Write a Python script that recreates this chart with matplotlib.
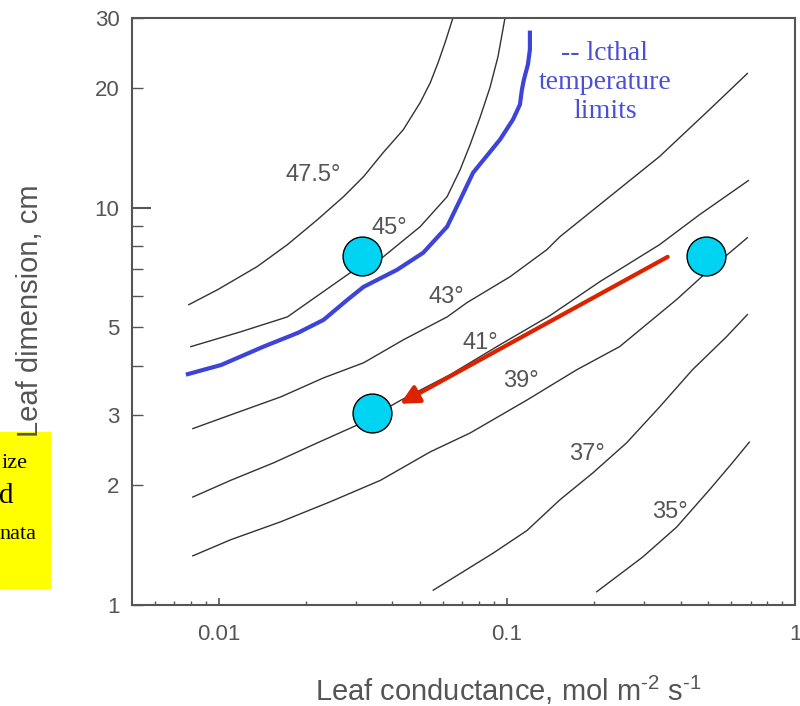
import matplotlib
matplotlib.use("Agg")
import matplotlib.pyplot as plt
from matplotlib.patches import Rectangle

# leaf conductance (mol m-2 s-1) vs leaf dimension (cm) for each isotherm
g_475 = [0.00787, 0.00992, 0.0136, 0.0173, 0.0220, 0.0271, 0.0318, 0.0372, 0.0437, 0.0500, 0.0542, 0.0577, 0.0610, 0.0649]
d_475 = [5.70, 6.22, 7.11, 8.07, 9.33, 10.66, 11.97, 13.76, 15.72, 18.39, 20.64, 23.19, 26.04, 30.0]
g_45 = [0.0080, 0.0119, 0.0173, 0.0286, 0.0372, 0.0500, 0.0620, 0.0688, 0.0745, 0.0806, 0.0873, 0.0931, 0.0984]
d_45 = [4.47, 4.87, 5.31, 6.86, 7.52, 8.96, 10.66, 12.47, 14.41, 16.85, 20.06, 24.01, 30.0]
g_43 = [0.00813, 0.0110, 0.0164, 0.0231, 0.0318, 0.0437, 0.0620, 0.0727, 0.1024, 0.1375, 0.1526, 0.2272, 0.3383, 0.5041, 0.6823]
d_43 = [2.78, 3.01, 3.34, 3.73, 4.07, 4.65, 5.31, 5.77, 6.70, 7.84, 8.45, 10.66, 13.45, 17.65, 21.76]
g_41 = [0.00813, 0.0110, 0.0155, 0.0220, 0.0303, 0.0426, 0.0635, 0.0946, 0.1409, 0.2098, 0.3383, 0.4655, 0.6879]
d_41 = [1.87, 2.06, 2.28, 2.56, 2.84, 3.27, 3.80, 4.52, 5.35, 6.51, 8.07, 9.60, 11.70]
g_39 = [0.00813, 0.0110, 0.0164, 0.0244, 0.0364, 0.0542, 0.0745, 0.1173, 0.1747, 0.2460, 0.3875, 0.5041, 0.6823]
d_39 = [1.33, 1.46, 1.62, 1.82, 2.06, 2.43, 2.71, 3.28, 3.91, 4.47, 5.87, 6.98, 8.40]
g_37 = [0.0555, 0.0688, 0.0894, 0.1173, 0.1526, 0.1985, 0.2601, 0.3383, 0.4402, 0.5770, 0.6823]
d_37 = [1.09, 1.20, 1.35, 1.54, 1.84, 2.15, 2.56, 3.15, 3.91, 4.73, 5.38]
g_35 = [0.2048, 0.2955, 0.3875, 0.5041, 0.6053, 0.6932]
d_35 = [1.08, 1.32, 1.57, 1.95, 2.28, 2.57]

# lethal temperature limit (blue)
g_leth = [0.00769, 0.0102, 0.0143, 0.0188, 0.0231, 0.0280, 0.0318, 0.0416, 0.0512, 0.0620,
          0.0688, 0.0763, 0.0946, 0.1049, 0.1109, 0.1127, 0.1145, 0.1182, 0.1201, 0.1201]
d_leth = [3.80, 4.02, 4.47, 4.84, 5.22, 5.87, 6.32, 6.98, 7.70, 8.96,
          10.47, 12.25, 14.84, 16.66, 18.17, 19.83, 21.01, 22.93, 25.0, 27.9]

# isotherm labels
temp_labels = ["47.5°", "45°", "43°", "41°", "39°", "37°", "35°"]
label_g = [0.0212, 0.0391, 0.0615, 0.0806, 0.1118, 0.1892, 0.3664]
label_d = [12.11, 8.90, 5.97, 4.57, 3.67, 2.40, 1.71]

# leaves (cyan dots) and the red arrow
leaf_g = [0.0313, 0.0341, 0.492]
leaf_d = [7.57, 3.04, 7.57]
arrow_from = (0.361, 7.52)
arrow_to = (0.0426, 3.21)

grey = "#555555"
plt.rcParams["font.family"] = ["Liberation Sans", "DejaVu Sans"]
plt.rcParams["mathtext.fontset"] = "custom"
plt.rcParams["mathtext.rm"] = "Liberation Sans"

fig = plt.figure(figsize=(8.0, 7.06), dpi=100)
ax = fig.add_axes([0.165, 0.143, 0.829, 0.8314])

curves = [(g_475, d_475), (g_45, d_45), (g_43, d_43), (g_41, d_41),
          (g_39, d_39), (g_37, d_37), (g_35, d_35)]
for g, d in curves:
    ax.plot(g, d, color="#333333", lw=1.0)

ax.plot(g_leth, d_leth, color="#3d44d8", lw=3.0, solid_capstyle="butt")

for t, x, y in zip(temp_labels, label_g, label_d):
    ax.text(x, y, t, fontsize=17, color=grey, ha="center", va="center")

ax.annotate("", xy=arrow_to, xytext=arrow_from,
            arrowprops=dict(arrowstyle="-|>", color="#dd2200", lw=3.0,
                            mutation_scale=28, shrinkA=0, shrinkB=0))

ax.plot(leaf_g, leaf_d, "o", ms=28, mfc="#00d4f2", mec="black", mew=1.0, zorder=5)

ax.text(0.713, 0.89, "-- lcthal\ntemperature\nlimits", transform=ax.transAxes,
        family=["Liberation Serif", "DejaVu Serif"], fontsize=20, color="#4a4fd6",
        ha="center", va="center", linespacing=1.2)

ax.set_xscale("log")
ax.set_yscale("log")
ax.set_xlim(0.005, 1.0)
ax.set_ylim(1, 30)

ax.set_xticks([0.01, 0.1, 1], labels=["0.01", "0.1", "1"])
ax.set_xticks([0.006, 0.007, 0.008, 0.009, 0.02, 0.03, 0.04, 0.05, 0.06, 0.07, 0.08, 0.09,
               0.2, 0.3, 0.4, 0.5, 0.6, 0.7, 0.8, 0.9], minor=True)
ax.set_yticks([10], labels=["10"])
ax.set_yticks([1, 2, 3, 4, 5, 6, 7, 8, 9, 20, 30],
              labels=["1", "2", "3", "", "5", "", "", "", "", "20", "30"], minor=True)

ax.tick_params(axis="x", which="both", direction="in", colors=grey, labelsize=16, pad=14)
ax.tick_params(axis="x", which="major", length=5, width=1.2)
ax.tick_params(axis="x", which="minor", length=3, width=1.0)
ax.tick_params(axis="y", which="both", direction="in", colors=grey, labelsize=16, pad=9)
ax.tick_params(axis="y", which="major", length=14, width=1.5)
ax.tick_params(axis="y", which="minor", length=8, width=1.0)
for s in ax.spines.values():
    s.set_color(grey)
    s.set_linewidth(1.5)

fig.text(30 / 800, 1 - 311 / 706, "Leaf dimension, cm", rotation=90, fontsize=21,
         color=grey, ha="center", va="center")
fig.text(508 / 800, 1 - 690 / 706, "Leaf conductance, mol m$^{\u20102}$ s$^{\u20101}$",
         fontsize=21, color=grey, ha="center", va="center")

# yellow note box cut at the left edge
fig.patches.append(Rectangle((0, 1 - 588 / 706), 50 / 800, 156 / 706,
                             transform=fig.transFigure, color="#ffff00", zorder=0))
serif = ["Liberation Serif", "DejaVu Serif"]
fig.text(28 / 800, 1 - 468 / 706, "ize", family=serif, fontsize=16, ha="right", va="baseline")
fig.text(13 / 800, 1 - 503 / 706, "d", family=serif, fontsize=21, ha="right", va="baseline")
fig.text(36 / 800, 1 - 539 / 706, "nata", family=serif, fontsize=16, ha="right", va="baseline")

fig.savefig("out.png", dpi=100)
